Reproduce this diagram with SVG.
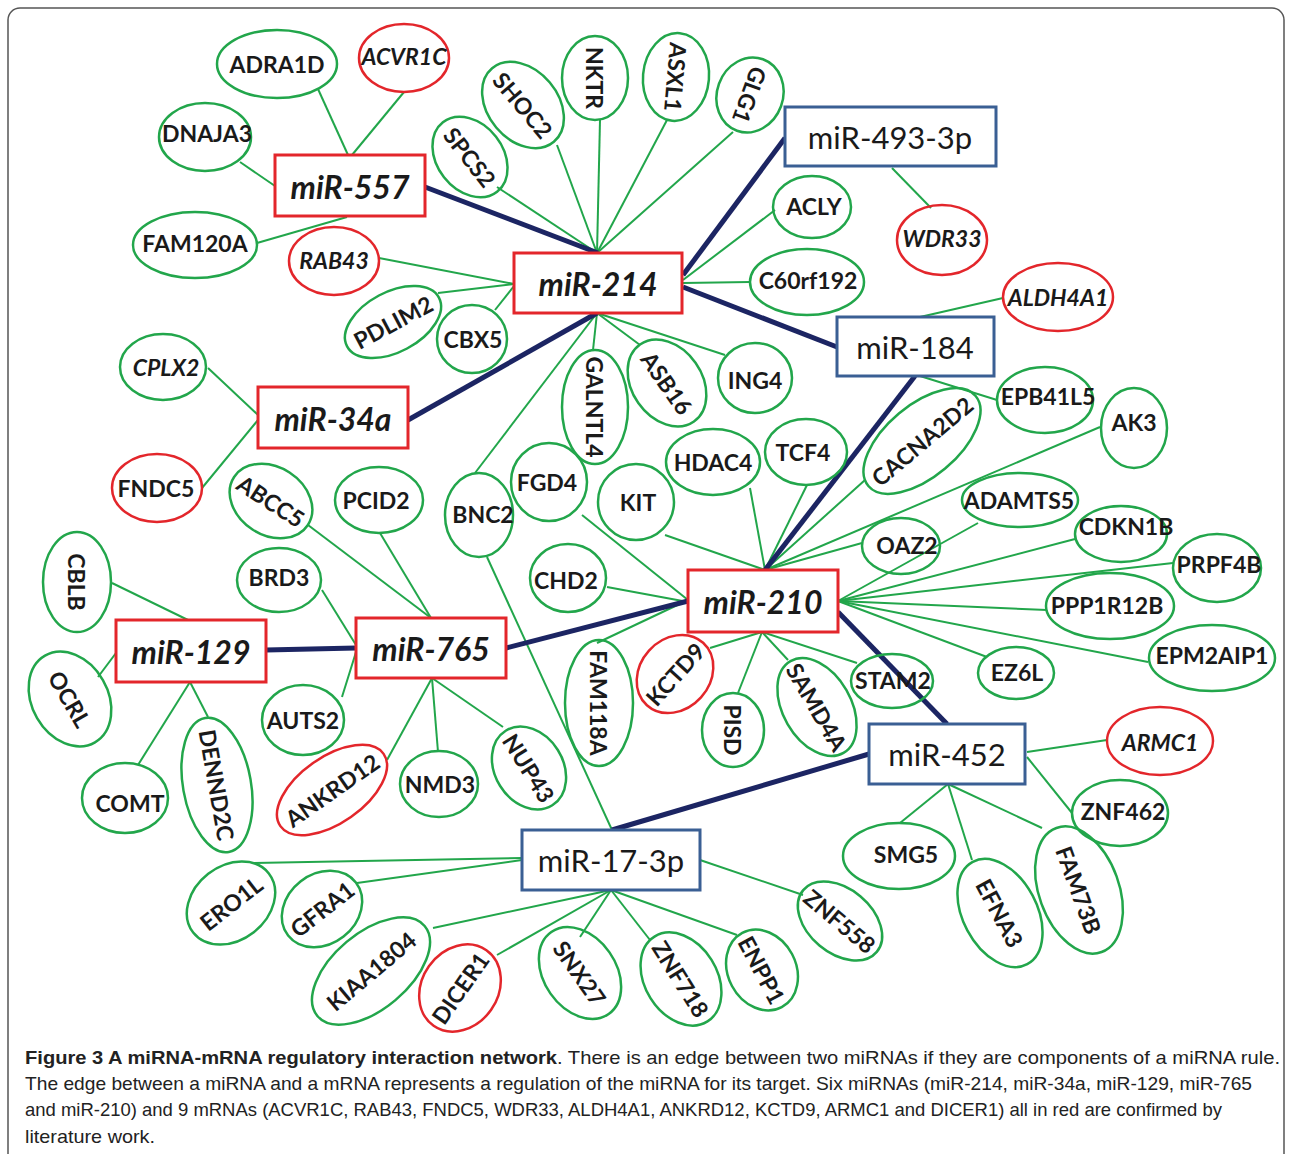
<svg xmlns="http://www.w3.org/2000/svg" width="1292" height="1154" viewBox="0 0 1292 1154">
<style>
.g{fill:none;stroke:#22a64b;stroke-width:2.5}
.r{fill:none;stroke:#e3262b;stroke-width:2.5}
.t{font-family:Lato,"Liberation Sans",sans-serif;font-weight:bold;font-size:23px;text-anchor:middle;dominant-baseline:central;fill:#1a1a1a}
.it{font-style:italic}
.rb{fill:#fff;stroke:#e3262b;stroke-width:3}
.bb{fill:#fff;stroke:#3a5f94;stroke-width:3}
.rt{font-family:Lato,"Liberation Sans",sans-serif;font-weight:bold;font-style:italic;font-size:32px;text-anchor:middle;dominant-baseline:central;fill:#1a1a1a}
.bt{font-family:Lato,"Liberation Sans",sans-serif;font-size:31px;text-anchor:middle;dominant-baseline:central;fill:#1a1a1a}
.e{stroke:#22a64b;stroke-width:2;fill:none}
.n{stroke:#1c2563;stroke-width:5;fill:none}
.cap{font-family:"Liberation Sans",Arial,sans-serif;font-size:19px;fill:#222}
</style>
<rect x="8" y="8" width="1276" height="1170" rx="12" fill="#fff" stroke="#555" stroke-width="1.5"/>
<g id="connectors">
<line class="e" x1="318" y1="89" x2="348" y2="155"/>
<line class="e" x1="404" y1="92" x2="352" y2="155"/>
<line class="e" x1="240" y1="162" x2="275" y2="186"/>
<line class="e" x1="257" y1="243" x2="347" y2="217"/>
<line class="e" x1="497" y1="187" x2="597" y2="253"/>
<line class="e" x1="557" y1="145" x2="597" y2="253"/>
<line class="e" x1="600" y1="120" x2="597" y2="253"/>
<line class="e" x1="667" y1="120" x2="597" y2="253"/>
<line class="e" x1="733" y1="132" x2="597" y2="253"/>
<line class="e" x1="379" y1="258" x2="514" y2="284"/>
<line class="e" x1="438" y1="293" x2="514" y2="284"/>
<line class="e" x1="495" y1="310" x2="514" y2="286"/>
<line class="e" x1="775" y1="210" x2="683" y2="280"/>
<line class="e" x1="750" y1="282" x2="683" y2="283"/>
<line class="e" x1="597" y1="313" x2="593" y2="350"/>
<line class="e" x1="597" y1="313" x2="640" y2="345"/>
<line class="e" x1="597" y1="313" x2="725" y2="355"/>
<line class="e" x1="597" y1="313" x2="475" y2="473"/>
<line class="e" x1="892" y1="168" x2="931" y2="208"/>
<line class="e" x1="920" y1="317" x2="1003" y2="298"/>
<line class="e" x1="920" y1="376" x2="997" y2="400"/>
<line class="e" x1="208" y1="368" x2="258" y2="415"/>
<line class="e" x1="202" y1="488" x2="258" y2="420"/>
<line class="e" x1="487" y1="557" x2="612" y2="830"/>
<line class="e" x1="308" y1="525" x2="431" y2="618"/>
<line class="e" x1="380" y1="533" x2="431" y2="618"/>
<line class="e" x1="322" y1="590" x2="356" y2="645"/>
<line class="e" x1="342" y1="697" x2="356" y2="652"/>
<line class="e" x1="387" y1="760" x2="432" y2="678"/>
<line class="e" x1="438" y1="752" x2="432" y2="678"/>
<line class="e" x1="503" y1="727" x2="432" y2="678"/>
<line class="e" x1="112" y1="583" x2="188" y2="620"/>
<line class="e" x1="98" y1="677" x2="116" y2="653"/>
<line class="e" x1="138" y1="765" x2="190" y2="682"/>
<line class="e" x1="208" y1="717" x2="190" y2="682"/>
<line class="e" x1="665" y1="535" x2="765" y2="570"/>
<line class="e" x1="750" y1="488" x2="765" y2="570"/>
<line class="e" x1="807" y1="485" x2="765" y2="570"/>
<line class="e" x1="865" y1="480" x2="765" y2="570"/>
<line class="e" x1="862" y1="543" x2="765" y2="570"/>
<line class="e" x1="1100" y1="427" x2="765" y2="570"/>
<line class="e" x1="978" y1="523" x2="838" y2="601"/>
<line class="e" x1="1075" y1="539" x2="838" y2="601"/>
<line class="e" x1="1173" y1="563" x2="838" y2="601"/>
<line class="e" x1="1047" y1="610" x2="838" y2="601"/>
<line class="e" x1="1148" y1="662" x2="838" y2="601"/>
<line class="e" x1="987" y1="657" x2="838" y2="601"/>
<line class="e" x1="607" y1="587" x2="688" y2="602"/>
<line class="e" x1="582" y1="515" x2="688" y2="600"/>
<line class="e" x1="597" y1="643" x2="688" y2="600"/>
<line class="e" x1="710" y1="648" x2="762" y2="632"/>
<line class="e" x1="738" y1="693" x2="762" y2="632"/>
<line class="e" x1="788" y1="660" x2="762" y2="632"/>
<line class="e" x1="857" y1="663" x2="762" y2="632"/>
<line class="e" x1="1027" y1="752" x2="1107" y2="740"/>
<line class="e" x1="1027" y1="757" x2="1072" y2="813"/>
<line class="e" x1="900" y1="823" x2="948" y2="784"/>
<line class="e" x1="972" y1="860" x2="948" y2="784"/>
<line class="e" x1="1042" y1="828" x2="948" y2="784"/>
<line class="e" x1="253" y1="863" x2="522" y2="858"/>
<line class="e" x1="357" y1="883" x2="522" y2="860"/>
<line class="e" x1="433" y1="928" x2="611" y2="890"/>
<line class="e" x1="497" y1="955" x2="611" y2="890"/>
<line class="e" x1="580" y1="937" x2="611" y2="890"/>
<line class="e" x1="650" y1="940" x2="611" y2="890"/>
<line class="e" x1="737" y1="935" x2="611" y2="890"/>
<line class="e" x1="700" y1="860" x2="803" y2="895"/>
<line class="n" x1="425" y1="187" x2="598" y2="253"/>
<line class="n" x1="683" y1="275" x2="785" y2="138"/>
<line class="n" x1="683" y1="287" x2="837" y2="347"/>
<line class="n" x1="597" y1="313" x2="408" y2="420"/>
<line class="n" x1="915" y1="376" x2="765" y2="570"/>
<line class="n" x1="266" y1="650" x2="356" y2="648"/>
<line class="n" x1="506" y1="648" x2="688" y2="601"/>
<line class="n" x1="838" y1="612" x2="947" y2="724"/>
<line class="n" x1="869" y1="754" x2="612" y2="830"/>
</g>
<g id="miR-557"><rect class="rb" x="275" y="155" width="150" height="61"/><text class="rt" x="350" y="186">miR-557</text></g>
<g id="miR-214"><rect class="rb" x="514" y="253" width="168" height="60"/><text class="rt" x="598" y="283">miR-214</text></g>
<g id="miR-34a"><rect class="rb" x="258" y="387" width="150" height="61"/><text class="rt" x="333" y="418">miR-34a</text></g>
<g id="miR-129"><rect class="rb" x="116" y="620" width="150" height="62"/><text class="rt" x="191" y="651">miR-129</text></g>
<g id="miR-765"><rect class="rb" x="356" y="618" width="150" height="60"/><text class="rt" x="431" y="648">miR-765</text></g>
<g id="miR-210"><rect class="rb" x="688" y="570" width="150" height="62"/><text class="rt" x="763" y="601">miR-210</text></g>
<g id="miR-493-3p"><rect class="bb" x="785" y="107" width="211" height="59"/><text class="bt" x="890" y="137">miR-493-3p</text></g>
<g id="miR-184"><rect class="bb" x="837" y="317" width="157" height="59"/><text class="bt" x="915" y="347">miR-184</text></g>
<g id="miR-452"><rect class="bb" x="869" y="724" width="156" height="60"/><text class="bt" x="947" y="754">miR-452</text></g>
<g id="miR-17-3p"><rect class="bb" x="522" y="830" width="178" height="60"/><text class="bt" x="611" y="860">miR-17-3p</text></g>

<g id="ADRA1D"><ellipse class="g" cx="277" cy="64" rx="60" ry="34"/><text class="t" x="277" y="64">ADRA1D</text></g>
<g id="ACVR1C"><ellipse class="r" cx="404" cy="58" rx="45" ry="34"/><text class="t it" x="404" y="56">ACVR1C</text></g>
<g id="DNAJA3"><ellipse class="g" cx="205" cy="137" rx="46" ry="34"/><text class="t" x="207" y="133">DNAJA3</text></g>
<g id="FAM120A"><ellipse class="g" cx="195" cy="245" rx="62" ry="33"/><text class="t" x="195" y="243">FAM120A</text></g>
<g id="RAB43"><ellipse class="r" cx="334" cy="261" rx="45" ry="34"/><text class="t it" x="334" y="260">RAB43</text></g>
<g id="ACLY"><ellipse class="g" cx="812" cy="207" rx="39" ry="31"/><text class="t" x="814" y="206">ACLY</text></g>
<g id="C60rf192"><ellipse class="g" cx="807" cy="282" rx="57" ry="33"/><text class="t" x="808" y="280">C60rf192</text></g>
<g id="WDR33"><ellipse class="r" cx="942" cy="240" rx="45" ry="35"/><text class="t it" x="942" y="238">WDR33</text></g>
<g id="ALDH4A1"><ellipse class="r" cx="1058" cy="297" rx="55" ry="34"/><text class="t it" x="1058" y="297">ALDH4A1</text></g>
<g id="EPB41L5"><ellipse class="g" cx="1045" cy="400" rx="48" ry="33"/><text class="t" x="1048" y="396">EPB41L5</text></g>
<g id="AK3"><ellipse class="g" cx="1134" cy="428" rx="33" ry="40"/><text class="t" x="1134" y="422">AK3</text></g>
<g id="ADAMTS5"><ellipse class="g" cx="1020" cy="500" rx="58" ry="27"/><text class="t" x="1019" y="500">ADAMTS5</text></g>
<g id="OAZ2"><ellipse class="g" cx="901" cy="546" rx="39" ry="28"/><text class="t" x="907" y="545">OAZ2</text></g>
<g id="CDKN1B"><ellipse class="g" cx="1121" cy="534" rx="46" ry="28"/><text class="t" x="1126" y="526">CDKN1B</text></g>
<g id="PRPF4B"><ellipse class="g" cx="1217" cy="568" rx="44" ry="34"/><text class="t" x="1219" y="564">PRPF4B</text></g>
<g id="PPP1R12B"><ellipse class="g" cx="1110" cy="606" rx="64" ry="33"/><text class="t" x="1107" y="605">PPP1R12B</text></g>
<g id="EPM2AIP1"><ellipse class="g" cx="1212" cy="658" rx="63" ry="33"/><text class="t" x="1212" y="655">EPM2AIP1</text></g>
<g id="EZ6L"><ellipse class="g" cx="1016" cy="673" rx="38" ry="26"/><text class="t" x="1017" y="672">EZ6L</text></g>
<g id="STAM2"><ellipse class="g" cx="892" cy="681" rx="41" ry="27"/><text class="t" x="893" y="680">STAM2</text></g>
<g id="ARMC1"><ellipse class="r" cx="1160" cy="741" rx="53" ry="34"/><text class="t it" x="1160" y="742">ARMC1</text></g>
<g id="ZNF462"><ellipse class="g" cx="1120" cy="813" rx="48" ry="33"/><text class="t" x="1123" y="811">ZNF462</text></g>
<g id="SMG5"><ellipse class="g" cx="899" cy="856" rx="56" ry="33"/><text class="t" x="906" y="854">SMG5</text></g>
<g id="COMT"><ellipse class="g" cx="125" cy="798" rx="43" ry="35"/><text class="t" x="130" y="803">COMT</text></g>
<g id="AUTS2"><ellipse class="g" cx="303" cy="720" rx="41" ry="35"/><text class="t" x="303" y="720">AUTS2</text></g>
<g id="NMD3"><ellipse class="g" cx="439" cy="784" rx="39" ry="33"/><text class="t" x="440" y="784">NMD3</text></g>
<g id="BRD3"><ellipse class="g" cx="279" cy="580" rx="42" ry="32"/><text class="t" x="279" y="577">BRD3</text></g>
<g id="PCID2"><ellipse class="g" cx="379" cy="500" rx="44" ry="33"/><text class="t" x="376" y="500">PCID2</text></g>
<g id="CPLX2"><ellipse class="g" cx="163" cy="367" rx="43" ry="33"/><text class="t it" x="166" y="367">CPLX2</text></g>
<g id="FNDC5"><ellipse class="r" cx="157" cy="488" rx="45" ry="34"/><text class="t" x="156" y="488">FNDC5</text></g>
<g id="BNC2"><ellipse class="g" cx="479" cy="515" rx="34" ry="42"/><text class="t" x="483" y="514">BNC2</text></g>
<g id="FGD4"><ellipse class="g" cx="549" cy="482" rx="38" ry="39"/><text class="t" x="547" y="482">FGD4</text></g>
<g id="ING4"><ellipse class="g" cx="755" cy="378" rx="37" ry="35"/><text class="t" x="755" y="380">ING4</text></g>
<g id="HDAC4"><ellipse class="g" cx="713" cy="462" rx="47" ry="33"/><text class="t" x="713" y="462">HDAC4</text></g>
<g id="TCF4"><ellipse class="g" cx="806" cy="452" rx="41" ry="33"/><text class="t" x="803" y="452">TCF4</text></g>
<g id="KIT"><ellipse class="g" cx="636" cy="502" rx="38" ry="38"/><text class="t" x="638" y="502">KIT</text></g>
<g id="CHD2"><ellipse class="g" cx="568" cy="578" rx="38" ry="34"/><text class="t" x="566" y="580">CHD2</text></g>
<g id="CBX5"><ellipse class="g" cx="472" cy="339" rx="35" ry="34"/><text class="t" x="473" y="339">CBX5</text></g>

<g id="SPCS2" transform="translate(470 157) rotate(52)"><ellipse class="g" rx="44" ry="33"/><text class="t">SPCS2</text></g>
<g id="SHOC2" transform="translate(523 105) rotate(50)"><ellipse class="g" rx="48" ry="35"/><text class="t">SHOC2</text></g>
<g id="NKTR" transform="translate(595 78) rotate(90)"><ellipse class="g" rx="42" ry="33"/><text class="t">NKTR</text></g>
<g id="ASXL1" transform="translate(676 77) rotate(95)"><ellipse class="g" rx="44" ry="33"/><text class="t">ASXL1</text></g>
<g id="GLG1" transform="translate(750 95) rotate(110)"><ellipse class="g" rx="38" ry="33"/><text class="t">GLG1</text></g>
<g id="PDLIM2" transform="translate(393 322) rotate(-28)"><ellipse class="g" rx="52" ry="30"/><text class="t">PDLIM2</text></g>
<g id="CACNA2D2" transform="translate(922 441) rotate(-40)"><ellipse class="g" rx="70" ry="36"/><text class="t">CACNA2D2</text></g>
<g id="ABCC5" transform="translate(271 501) rotate(33)"><ellipse class="g" rx="44" ry="34"/><text class="t">ABCC5</text></g>
<g id="CBLB" transform="translate(77 582) rotate(90)"><ellipse class="g" rx="50" ry="34"/><text class="t">CBLB</text></g>
<g id="OCRL" transform="translate(70 699) rotate(60)"><ellipse class="g" rx="50" ry="38"/><text class="t">OCRL</text></g>
<g id="DENND2C" transform="translate(217 785) rotate(80)"><ellipse class="g" rx="68" ry="34"/><text class="t">DENND2C</text></g>
<g id="ANKRD12" transform="translate(332 790) rotate(-35)"><ellipse class="r" rx="63" ry="33"/><text class="t">ANKRD12</text></g>
<g id="NUP43" transform="translate(529 768) rotate(58)"><ellipse class="g" rx="44" ry="34"/><text class="t">NUP43</text></g>
<g id="ASB16" transform="translate(667 383) rotate(55)"><ellipse class="g" rx="47" ry="35"/><text class="t">ASB16</text></g>
<g id="GALNTL4" transform="translate(595 407) rotate(90)"><ellipse class="g" rx="57" ry="33"/><text class="t">GALNTL4</text></g>
<g id="FAM118A" transform="translate(599 703) rotate(90)"><ellipse class="g" rx="63" ry="34"/><text class="t">FAM118A</text></g>
<g id="KCTD9" transform="translate(675 674) rotate(-48)"><ellipse class="r" rx="42" ry="35"/><text class="t">KCTD9</text></g>
<g id="PISD" transform="translate(733 730) rotate(90)"><ellipse class="g" rx="37" ry="31"/><text class="t">PISD</text></g>
<g id="SAMD4A" transform="translate(817 707) rotate(60)"><ellipse class="g" rx="53" ry="34"/><text class="t">SAMD4A</text></g>
<g id="EFNA3" transform="translate(1000 913) rotate(62)"><ellipse class="g" rx="58" ry="37"/><text class="t">EFNA3</text></g>
<g id="FAM73B" transform="translate(1079 890) rotate(70)"><ellipse class="g" rx="66" ry="40"/><text class="t">FAM73B</text></g>
<g id="ZNF558" transform="translate(840 921) rotate(40)"><ellipse class="g" rx="48" ry="32"/><text class="t">ZNF558</text></g>
<g id="ENPP1" transform="translate(762 970) rotate(62)"><ellipse class="g" rx="42" ry="34"/><text class="t">ENPP1</text></g>
<g id="ZNF718" transform="translate(681 979) rotate(58)"><ellipse class="g" rx="50" ry="36"/><text class="t">ZNF718</text></g>
<g id="SNX27" transform="translate(580 973) rotate(55)"><ellipse class="g" rx="50" ry="36"/><text class="t">SNX27</text></g>
<g id="DICER1" transform="translate(460 988) rotate(-55)"><ellipse class="r" rx="46" ry="38"/><text class="t">DICER1</text></g>
<g id="KIAA1804" transform="translate(371 971) rotate(-40)"><ellipse class="g" rx="70" ry="38"/><text class="t">KIAA1804</text></g>
<g id="GFRA1" transform="translate(322 909) rotate(-38)"><ellipse class="g" rx="43" ry="35"/><text class="t">GFRA1</text></g>
<g id="ERO1L" transform="translate(231 903) rotate(-38)"><ellipse class="g" rx="48" ry="37"/><text class="t">ERO1L</text></g>

<g id="caption">
<text class="cap" x="25" y="1064" font-weight="bold" textLength="532" lengthAdjust="spacingAndGlyphs">Figure 3 A miRNA-mRNA regulatory interaction network</text>
<text class="cap" x="557" y="1064" textLength="723" lengthAdjust="spacingAndGlyphs">. There is an edge between two miRNAs if they are components of a miRNA rule.</text>
<text class="cap" x="25" y="1090" textLength="1227" lengthAdjust="spacingAndGlyphs">The edge between a miRNA and a mRNA represents a regulation of the miRNA for its target. Six miRNAs (miR-214, miR-34a, miR-129, miR-765</text>
<text class="cap" x="25" y="1116" textLength="1197" lengthAdjust="spacingAndGlyphs">and miR-210) and 9 mRNAs (ACVR1C, RAB43, FNDC5, WDR33, ALDH4A1, ANKRD12, KCTD9, ARMC1 and DICER1) all in red are confirmed by</text>
<text class="cap" x="25" y="1143" textLength="130" lengthAdjust="spacingAndGlyphs">literature work.</text>
</g>
</svg>
